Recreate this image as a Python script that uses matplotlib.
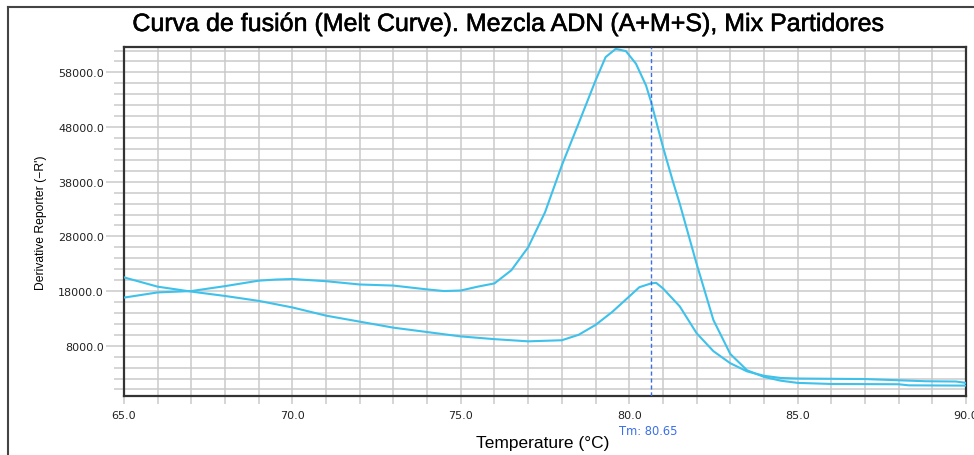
import matplotlib
matplotlib.use("Agg")
import matplotlib.pyplot as plt
import matplotlib.patheffects as pe
from matplotlib.lines import Line2D
from matplotlib.ticker import MultipleLocator, FormatStrFormatter

# curve with the big peak
temp_a = [65, 66, 67, 68, 69, 69.5, 70, 71, 72, 73, 74, 74.5, 75, 75.5, 76, 76.5,
          77, 77.5, 78, 78.5, 79, 79.3, 79.6, 79.9, 80.2, 80.5, 80.65, 81, 81.3,
          81.5, 82, 82.5, 83, 83.5, 84, 84.5, 85, 86, 88, 88.3, 90]
deriv_a = [16800, 17750, 18000, 18900, 19900, 20100, 20200, 19800, 19200, 19000,
           18300, 18000, 18100, 18800, 19400, 21800, 26000, 32400, 41000, 48700,
           56500, 60800, 62300, 61900, 59600, 55600, 52600, 44400, 38000, 34000,
           23000, 12700, 6500, 3500, 2300, 1600, 1200, 1000, 950, 750, 700]

# curve with the small peak
temp_b = [65, 66, 67, 68, 69, 70, 71, 72, 73, 74, 75, 76, 77, 78, 78.5, 79, 79.5,
          80, 80.3, 80.65, 80.8, 81, 81.5, 82, 82.5, 83, 83.5, 84, 84.5, 85, 87,
          88.8, 89.7, 90]
deriv_b = [20500, 18800, 17900, 17100, 16200, 15000, 13500, 12400, 11300, 10500,
           9700, 9200, 8800, 9000, 10000, 11800, 14200, 17000, 18700, 19400, 19500,
           18500, 15200, 10300, 7000, 4800, 3300, 2500, 2100, 2000, 1900, 1500,
           1450, 1200]

tm = 80.65

fig = plt.figure(figsize=(9.74, 4.56), dpi=100)
ax = fig.add_axes([124/974, 1 - 397/456, (966 - 124)/974, (397 - 47.7)/456])

line_color = '#3ec1ea'
ax.plot(temp_a, deriv_a, color=line_color, lw=1.5, zorder=3)
ax.plot(temp_b, deriv_b, color=line_color, lw=1.5, zorder=3)
ax.axvline(tm, color='#3a6fe8', lw=1, dashes=(3, 2), zorder=4)

ax.set_xlim(65, 90)
ax.set_ylim(-1200, 62700)

ax.xaxis.set_major_locator(MultipleLocator(5))
ax.xaxis.set_minor_locator(MultipleLocator(1))
ax.yaxis.set_minor_locator(MultipleLocator(2000))
ax.set_yticks([8000, 18000, 28000, 38000, 48000, 58000])
ax.xaxis.set_major_formatter(FormatStrFormatter('%.1f'))
ax.yaxis.set_major_formatter(FormatStrFormatter('%.1f'))

grid_color = '#cacaca'
ax.grid(which='both', color=grid_color, lw=1.1, zorder=0)
ax.set_axisbelow(True)
ax.tick_params(axis='x', which='both', length=6, color=grid_color, width=1.1,
               labelsize=8, labelcolor='#222222', pad=4)
ax.tick_params(axis='y', which='major', length=13, color=grid_color, width=1.1,
               labelsize=8, labelcolor='#222222', pad=1.5)
ax.tick_params(axis='y', which='minor', length=7, color=grid_color, width=1.1)
for s in ax.spines.values():
    s.set_color('#333333')
    s.set_linewidth(1.6)

ax.set_ylabel("Derivative Reporter (\u2212R')", fontsize=8.7,
              family='Liberation Sans', labelpad=8)
fig.text(543/974, 1 - 444/456, 'Temperature (\u00b0C)', fontsize=12.5,
         family='Liberation Sans', ha='center', va='center')
fig.text(648/974, 1 - 432/456, 'Tm: 80.65', fontsize=8.3, color='#3a6fe8',
         ha='center', va='center')
fig.text(508/974, 1 - 25/456,
         'Curva de fusi\u00f3n (Melt Curve). Mezcla ADN (A+M+S), Mix Partidores',
         fontsize=18, family='Liberation Sans', ha='center', va='center',
         path_effects=[pe.withStroke(linewidth=0.4, foreground='black')])

# outer frame (left and top)
fig.add_artist(Line2D([8/974, 8/974], [0, 1 - 8/456], color='#444444', lw=1.5))
fig.add_artist(Line2D([8/974, 1], [1 - 8/456, 1 - 8/456], color='#444444', lw=1.5))

fig.savefig('out.png', dpi=100)
